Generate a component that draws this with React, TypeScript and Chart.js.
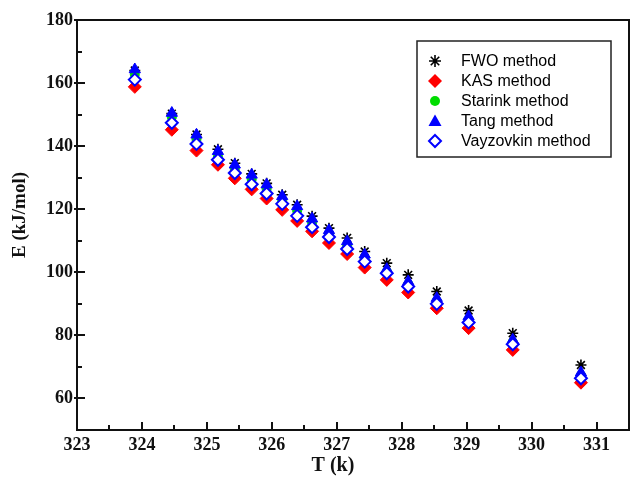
import React, { useEffect, useRef } from "react";
import { Chart, registerables } from "chart.js";

Chart.register(...registerables);

const T_VALUES = [323.89, 324.46, 324.84, 325.17, 325.43, 325.69, 325.92, 326.16, 326.39, 326.62, 326.88, 327.16, 327.43, 327.77, 328.10, 328.54, 329.03, 329.71, 330.76];
const FWO = [164.0, 150.3, 143.7, 139.0, 134.6, 131.2, 128.2, 124.6, 121.4, 117.8, 114.0, 110.9, 106.6, 102.9, 99.2, 93.9, 87.9, 80.7, 70.6];
const KAS = [158.8, 145.2, 138.6, 134.1, 129.8, 126.3, 123.4, 119.8, 116.3, 113.0, 109.3, 105.8, 101.5, 97.6, 93.6, 88.6, 82.3, 75.4, 65.0];
const STARINK = [162.7, 149.2, 142.2, 137.0, 132.8, 129.5, 126.4, 122.8, 119.5, 115.8, 112.2, 108.6, 104.4, 100.3, 96.3, 90.9, 85.0, 77.9, 67.3];
const TANG = [164.3, 150.5, 143.6, 138.4, 134.1, 130.9, 127.8, 124.1, 120.9, 117.0, 113.3, 109.8, 105.6, 101.0, 97.1, 91.8, 86.0, 78.6, 68.2];
const VYAZOVKIN = [161.1, 147.4, 140.7, 135.7, 131.5, 127.9, 125.0, 121.7, 117.9, 114.3, 111.2, 107.4, 103.4, 99.7, 95.5, 90.0, 84.1, 77.2, 66.4];

const SERIES_LABELS = ["FWO method", "KAS method", "Starink method", "Tang method", "Vayzovkin method"];
const X_TICKS = [323, 324, 325, 326, 327, 328, 329, 330, 331];
const X_MINOR = [323.5, 324.5, 325.5, 326.5, 327.5, 328.5, 329.5, 330.5];
const Y_TICKS = [60, 80, 100, 120, 140, 160, 180];
const Y_MINOR = [70, 90, 110, 130, 150, 170];
const X_TITLE = "T (k)";
const Y_TITLE = "E (kJ/mol)";

const GREEN = "#00dd00";
const BLUE = "#0000ff";
const RED = "#ff0000";

const toPoints = (ys: number[]) => T_VALUES.map((t, i) => ({ x: t, y: ys[i] }));

function drawMarker(ctx: CanvasRenderingContext2D, kind: number, x: number, y: number) {
  ctx.save();
  if (kind === 0) {
    ctx.strokeStyle = "#000";
    ctx.lineWidth = 1.6;
    const r = 6;
    ctx.beginPath();
    for (let k = 0; k < 4; k++) {
      const a = (k * Math.PI) / 4;
      ctx.moveTo(x - Math.cos(a) * r, y - Math.sin(a) * r);
      ctx.lineTo(x + Math.cos(a) * r, y + Math.sin(a) * r);
    }
    ctx.stroke();
  } else if (kind === 1) {
    const r = 7;
    ctx.fillStyle = RED;
    ctx.beginPath();
    ctx.moveTo(x, y - r);
    ctx.lineTo(x + r, y);
    ctx.lineTo(x, y + r);
    ctx.lineTo(x - r, y);
    ctx.closePath();
    ctx.fill();
  } else if (kind === 2) {
    ctx.fillStyle = GREEN;
    ctx.beginPath();
    ctx.arc(x, y, 5, 0, Math.PI * 2);
    ctx.fill();
  } else if (kind === 3) {
    ctx.fillStyle = BLUE;
    ctx.beginPath();
    ctx.moveTo(x, y - 6.5);
    ctx.lineTo(x + 6.5, y + 5);
    ctx.lineTo(x - 6.5, y + 5);
    ctx.closePath();
    ctx.fill();
  } else {
    const r = 6;
    ctx.fillStyle = "#fff";
    ctx.strokeStyle = BLUE;
    ctx.lineWidth = 2;
    ctx.beginPath();
    ctx.moveTo(x, y - r);
    ctx.lineTo(x + r, y);
    ctx.lineTo(x, y + r);
    ctx.lineTo(x - r, y);
    ctx.closePath();
    ctx.fill();
    ctx.stroke();
  }
  ctx.restore();
}

const framePlugin = {
  id: "frame",
  beforeDatasetsDraw(chart: any) {
    const { ctx, chartArea: a, scales } = chart;
    const xs = scales.x;
    const ys = scales.y;
    ctx.save();
    ctx.strokeStyle = "#111";
    ctx.lineWidth = 2;
    ctx.strokeRect(a.left, a.top, a.right - a.left, a.bottom - a.top);
    ctx.lineWidth = 2;
    ctx.beginPath();
    X_TICKS.forEach((v) => {
      const p = Math.round(xs.getPixelForValue(v));
      ctx.moveTo(p, a.bottom);
      ctx.lineTo(p, a.bottom - 8);
    });
    X_MINOR.forEach((v) => {
      const p = Math.round(xs.getPixelForValue(v));
      ctx.moveTo(p, a.bottom);
      ctx.lineTo(p, a.bottom - 5);
    });
    Y_TICKS.forEach((v) => {
      const p = Math.round(ys.getPixelForValue(v));
      ctx.moveTo(a.left - 3, p);
      ctx.lineTo(a.left + 8, p);
    });
    Y_MINOR.forEach((v) => {
      const p = Math.round(ys.getPixelForValue(v));
      ctx.moveTo(a.left, p);
      ctx.lineTo(a.left + 5, p);
    });
    ctx.stroke();
    ctx.restore();
  },
  afterDraw(chart: any) {
    const { ctx } = chart;
    ctx.save();
    ctx.fillStyle = "#111";
    ctx.font = "bold 20px 'Liberation Serif'";
    ctx.textAlign = "center";
    ctx.textBaseline = "middle";
    ctx.fillText(X_TITLE, 333, 466);
    ctx.translate(20, 215);
    ctx.rotate(-Math.PI / 2);
    ctx.font = "bold 19px 'Liberation Serif'";
    ctx.fillText(Y_TITLE, 0, 0);
    ctx.restore();

    ctx.save();
    ctx.strokeStyle = "#222";
    ctx.lineWidth = 1.5;
    ctx.fillStyle = "#fff";
    ctx.fillRect(417, 41, 194, 116);
    ctx.strokeRect(417, 41, 194, 116);
    ctx.font = "16px 'Liberation Sans'";
    ctx.fillStyle = "#000";
    ctx.textAlign = "left";
    ctx.textBaseline = "middle";
    chart.data.datasets.forEach((ds: any, i: number) => {
      const y = 61 + i * 20;
      drawMarker(ctx, i, 435, y);
      ctx.fillText(ds.label, 461, y + 1);
    });
    ctx.restore();
  },
};

export default function App() {
  const ref = useRef<HTMLCanvasElement | null>(null);

  useEffect(() => {
    document.body.style.margin = "0";
    const canvas = ref.current;
    if (!canvas) return;
    const chart = new Chart(canvas, {
      type: "scatter",
      data: {
        datasets: [
          {
            label: SERIES_LABELS[0],
            data: toPoints(FWO),
            pointStyle: "star",
            pointRadius: 5.5,
            borderColor: "#000",
            backgroundColor: "#000",
            borderWidth: 1.6,
            order: 3,
          },
          {
            label: SERIES_LABELS[1],
            data: toPoints(KAS),
            pointStyle: "rectRot",
            pointRadius: 6.5,
            borderColor: RED,
            backgroundColor: RED,
            borderWidth: 1,
            order: 4,
          },
          {
            label: SERIES_LABELS[2],
            data: toPoints(STARINK),
            pointStyle: "circle",
            pointRadius: 4.5,
            borderColor: GREEN,
            backgroundColor: GREEN,
            borderWidth: 1,
            order: 2,
          },
          {
            label: SERIES_LABELS[3],
            data: toPoints(TANG),
            pointStyle: "triangle",
            pointRadius: 6.5,
            borderColor: BLUE,
            backgroundColor: BLUE,
            borderWidth: 1,
            order: 1,
          },
          {
            label: SERIES_LABELS[4],
            data: toPoints(VYAZOVKIN),
            pointStyle: "rectRot",
            pointRadius: 6,
            borderColor: BLUE,
            backgroundColor: "#fff",
            borderWidth: 2,
            order: 0,
          },
        ],
      },
      options: {
        animation: false,
        responsive: false,
        devicePixelRatio: 1,
        layout: { autoPadding: false, padding: { top: 20, right: 1, left: 0, bottom: 0 } },
        plugins: {
          legend: { display: false },
          tooltip: { enabled: false },
        },
        scales: {
          x: {
            type: "linear",
            min: 323,
            max: 331.5,
            afterBuildTicks: (s: any) => {
              s.ticks = X_TICKS.map((v) => ({ value: v }));
            },
            afterFit: (s: any) => {
              s.height = 49;
              s.paddingLeft = 0;
              s.paddingRight = 0;
            },
            grid: { display: false, drawTicks: false },
            border: { display: false },
            ticks: {
              padding: 5,
              color: "#111",
              font: { family: "'Liberation Serif'", size: 18, weight: "bold" },
              maxRotation: 0,
              autoSkip: false,
            },
          },
          y: {
            type: "linear",
            min: 50,
            max: 180,
            afterBuildTicks: (s: any) => {
              s.ticks = Y_TICKS.map((v) => ({ value: v }));
            },
            afterFit: (s: any) => {
              s.width = 77;
              s.paddingTop = 0;
              s.paddingBottom = 0;
            },
            grid: { display: false, drawTicks: false },
            border: { display: false },
            ticks: {
              padding: 4,
              color: "#111",
              font: { family: "'Liberation Serif'", size: 18, weight: "bold" },
              autoSkip: false,
            },
          },
        },
      },
      plugins: [framePlugin],
    });
    return () => chart.destroy();
  }, []);

  return (
    <div style={{ width: 630, height: 479 }}>
      <canvas ref={ref} width={630} height={479} style={{ display: "block" }} />
    </div>
  );
}
